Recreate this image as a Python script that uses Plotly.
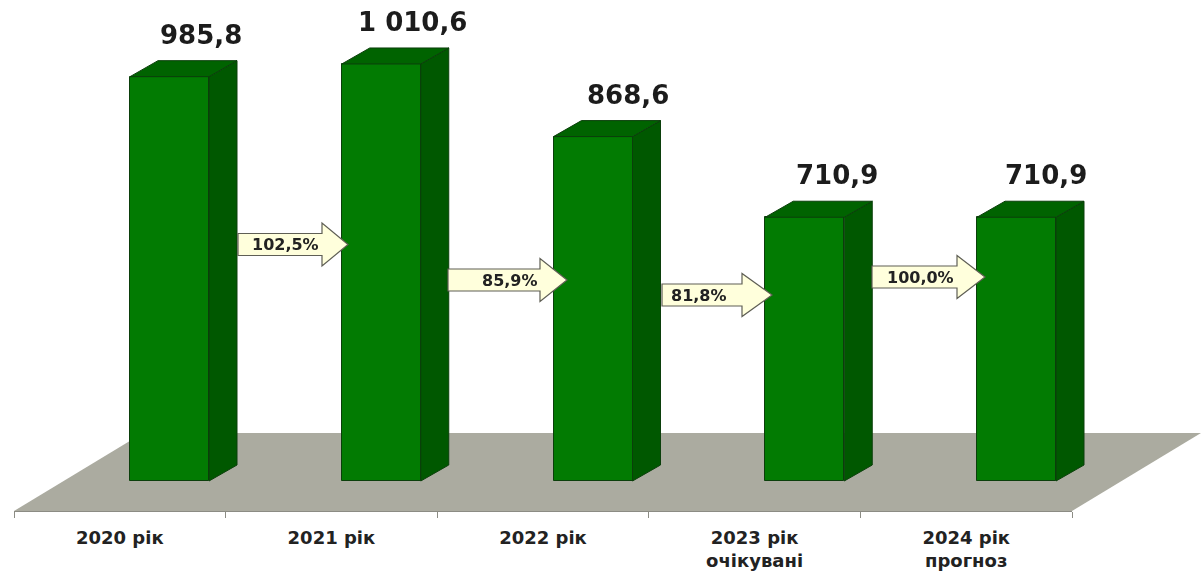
import plotly.graph_objects as go

# ---- data ----
categories = ["2020 рік", "2021 рік", "2022 рік", "2023 рік<br>очікувані", "2024 рік<br>прогноз"]
values = [985.8, 1010.6, 868.6, 710.9, 710.9]
value_labels = ["985,8", "1 010,6", "868,6", "710,9", "710,9"]
ratio_labels = ["102,5%", "85,9%", "81,8%", "100,0%"]

# ---- layout constants (pixels of the 1204x573 page) ----
W, H = 1204, 573
BASE_VALUE = 195.0          # value axis is truncated
PX_PER_UNIT = 0.5113
BASE_PX = 481.0
CENTER0_PX, STEP_PX = 169.5, 211.75
BAR_PX = 79.0
DX, DY = 28.0, 16.0
LABEL_SHIFT = [31, 31, 35, 32, 29]

x_range = [(0 - CENTER0_PX) / STEP_PX, (W - CENTER0_PX) / STEP_PX]
y_range = [BASE_VALUE - (H - BASE_PX) / PX_PER_UNIT, BASE_VALUE + BASE_PX / PX_PER_UNIT]
dx_u, dy_u, half = DX / STEP_PX, DY / PX_PER_UNIT, BAR_PX / STEP_PX / 2

def px(x): return x / W
def py(y): return 1 - y / H
def poly(points):
    return "M" + " L".join(f"{px(a):.5f},{py(b):.5f}" for a, b in points) + " Z"

fig = go.Figure()

# floor of the 3D chart
fig.add_shape(type="path", xref="paper", yref="paper", layer="below",
              path=poly([(14, 511), (143, 433), (1201, 433), (1072, 511)]),
              fillcolor="#ABABA0", line=dict(width=0))

# side and top faces, derived from values
idx = list(range(len(values)))
sx, sy, tx, ty = [], [], [], []
for i, v in zip(idx, values):
    r, l = i + half, i - half
    sx += [r, r + dx_u, r + dx_u, r, r, None]
    sy += [BASE_VALUE, BASE_VALUE + dy_u, v + dy_u, v, BASE_VALUE, None]
    tx += [l, l + dx_u, r + dx_u, r, l, None]
    ty += [v, v + dy_u, v + dy_u, v, v, None]
edge = dict(color="#0B3F0B", width=1)
fig.add_trace(go.Scatter(x=sx, y=sy, mode="lines", fill="toself", fillcolor="#005800",
                         line=edge, hoverinfo="skip", showlegend=False))
fig.add_trace(go.Scatter(x=tx, y=ty, mode="lines", fill="toself", fillcolor="#006300",
                         line=edge, hoverinfo="skip", showlegend=False))
# front faces
fig.add_trace(go.Bar(x=idx, y=[v - BASE_VALUE for v in values], base=BASE_VALUE,
                     width=BAR_PX / STEP_PX, marker=dict(color="#027B02", line=edge),
                     hoverinfo="skip", showlegend=False))
# carrier for the category axis of the floor
fig.add_trace(go.Scatter(x=idx, y=values, xaxis="x2", mode="markers", opacity=0,
                         hoverinfo="skip", showlegend=False))

# value labels
for i, v, t, s in zip(idx, values, value_labels, LABEL_SHIFT):
    fig.add_annotation(x=i, y=v, text=t, showarrow=False, xshift=s, yshift=42, xanchor="center",
                       font=dict(family="DejaVu Sans", size=26, color="#1c1c1c", weight="bold"))

# block arrows: body start, head base, tip x, centre y, text centre x
arrows = [(238, 322, 348, 244.5, 285), (448, 540, 567, 280, 510),
          (662, 742, 772, 295, 699), (872, 957, 985, 277, 920)]
for (x0, x1, x2, yc, xt), t in zip(arrows, ratio_labels):
    fig.add_shape(type="path", xref="paper", yref="paper", layer="above",
                  path=poly([(x0, yc - 11), (x1, yc - 11), (x1, yc - 21.5), (x2, yc),
                             (x1, yc + 21.5), (x1, yc + 11), (x0, yc + 11)]),
                  fillcolor="#FFFFDC", line=dict(color="#5f5f55", width=1.2))
    fig.add_annotation(xref="paper", yref="paper", x=px(xt), y=py(yc), text=t, showarrow=False,
                       xanchor="center", yanchor="middle",
                       font=dict(family="DejaVu Sans", size=16, color="#222222", weight="bold"))

fig.update_layout(
    width=W, height=H, margin=dict(l=0, r=0, t=0, b=0),
    paper_bgcolor="white", plot_bgcolor="rgba(0,0,0,0)", showlegend=False, bargap=0,
    font=dict(family="DejaVu Sans"),
    xaxis=dict(range=x_range, visible=False, domain=[0, 1]),
    yaxis=dict(range=y_range, visible=False, domain=[0, 1]),
    xaxis2=dict(anchor="free", position=py(511), side="bottom",
                domain=[px(14), px(1072)], range=[-0.5, 4.5],
                tickmode="array", tickvals=idx, ticktext=categories, ticks="",
                ticklabelstandoff=10, showgrid=False, zeroline=False,
                showline=True, linecolor="#8c8c84", linewidth=1,
                tickfont=dict(family="DejaVu Sans", size=18, color="#222222", weight="bold"),
                minor=dict(tickmode="array", tickvals=[k - 0.5 for k in range(6)],
                           ticks="outside", ticklen=6, tickcolor="#8c8c84", tickwidth=1,
                           showgrid=False)),
)
fig.write_html("out.html", config={"displayModeBar": False},
               post_script="document.body.style.margin='0';document.body.style.overflow='hidden';")
